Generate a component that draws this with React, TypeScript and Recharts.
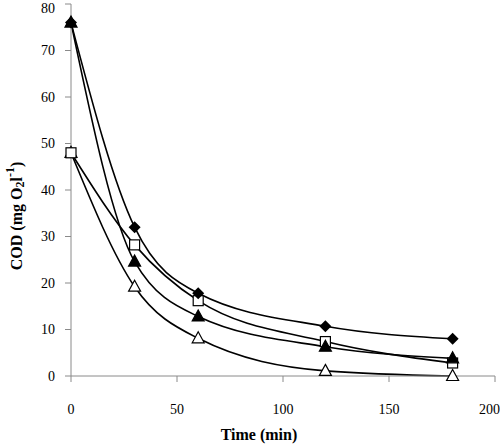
import { LineChart, Line, XAxis, YAxis, Label } from "recharts";

const times = [0, 30, 60, 120, 180];
const diamondSeries = [76, 32, 17.8, 10.7, 8];
const filledTriSeries = [76, 24.6, 12.8, 6.3, 3.8];
const squareSeries = [48, 28.2, 16.2, 7.4, 2.8];
const openTriSeries = [48, 19.2, 8.1, 1.1, 0];
const xTicks = [0, 50, 100, 150, 200];
const yTicks = [0, 10, 20, 30, 40, 50, 60, 70, 80];

const data = times.map((t, i) => ({
  t,
  diamond: diamondSeries[i],
  filledTri: filledTriSeries[i],
  square: squareSeries[i],
  openTri: openTriSeries[i],
}));

const font = "'Times New Roman', 'Liberation Serif', 'DejaVu Serif', serif";
const axisColor = "#8a8a8a";

function Marker({ cx, cy, kind }: { cx?: number; cy?: number; kind: string }) {
  if (cx == null || cy == null) return null;
  if (kind === "diamond") {
    return <path d={`M${cx},${cy - 6} L${cx + 6},${cy} L${cx},${cy + 6} L${cx - 6},${cy} Z`} fill="#000" />;
  }
  if (kind === "square") {
    return <rect x={cx - 5} y={cy - 5} width={10} height={10} fill="#fff" stroke="#000" strokeWidth={1.2} />;
  }
  const filled = kind === "filledTri";
  return (
    <path
      d={`M${cx},${cy - 6.5} L${cx + 6},${cy + 4.5} L${cx - 6},${cy + 4.5} Z`}
      fill={filled ? "#000" : "#fff"}
      stroke="#000"
      strokeWidth={1.2}
    />
  );
}

function YLabel() {
  const cx = 16;
  const cy = 216;
  return (
    <text
      x={cx}
      y={cy}
      transform={`rotate(-90, ${cx}, ${cy})`}
      textAnchor="middle"
      dominantBaseline="central"
      fontFamily={font}
      fontWeight="bold"
      fontSize={16}
      fill="#000"
    >
      COD (mg O<tspan fontSize={12} dy={4}>2</tspan>
      <tspan dy={-4}>l</tspan>
      <tspan fontSize={12} dy={-6}>-1</tspan>
      <tspan dy={6}>)</tspan>
    </text>
  );
}

function XLabel() {
  return (
    <text x={259} y={440} textAnchor="middle" fontFamily={font} fontWeight="bold" fontSize={16} fill="#000">
      Time (min)
    </text>
  );
}

const series: string[] = ["openTri", "square", "filledTri", "diamond"];

export default function App() {
  return (
    <div style={{ position: "absolute", left: 0, top: 0, width: 500, height: 444, background: "#fff", fontFamily: font }}>
      <LineChart width={500} height={444} data={data} margin={{ top: 4, right: 5, bottom: 0, left: 0 }}>
        <XAxis
          dataKey="t"
          type="number"
          domain={[0, 200]}
          ticks={xTicks}
          height={68}
          stroke={axisColor}
          tickSize={6}
          tickMargin={22}
          tick={{ fill: "#000", fontFamily: font, fontSize: 14 }}
        >
          <Label content={<XLabel />} />
        </XAxis>
        <YAxis
          type="number"
          domain={[0, 80]}
          ticks={yTicks}
          width={71}
          stroke={axisColor}
          tickSize={6}
          tickMargin={10}
          tick={{ fill: "#000", fontFamily: font, fontSize: 14 }}
        >
          <Label content={<YLabel />} />
        </YAxis>
        {series.map((key) => (
          <Line
            key={key}
            dataKey={key}
            type="monotone"
            stroke="#000"
            strokeWidth={1.6}
            dot={(p: any) => <Marker key={`${key}-${p.index}`} cx={p.cx} cy={p.cy} kind={key} />}
            activeDot={false}
            isAnimationActive={false}
          />
        ))}
      </LineChart>
    </div>
  );
}
